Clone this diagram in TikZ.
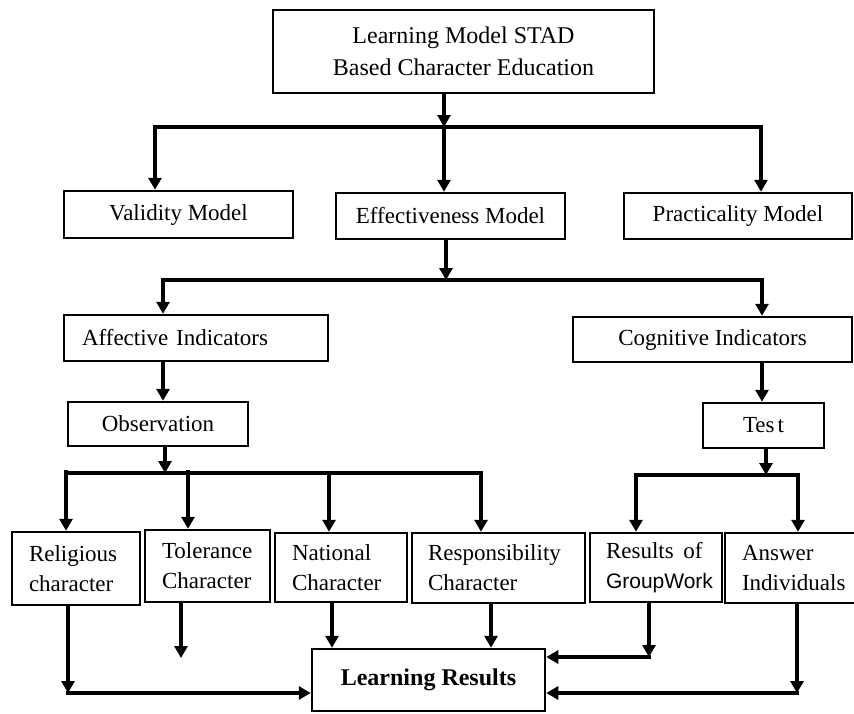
\documentclass[tikz,border=0pt]{standalone}
\usepackage{fontspec}
\setmainfont{Liberation Serif}
\setsansfont{Liberation Sans}
\usetikzlibrary{arrows.meta}
\begin{document}
\begin{tikzpicture}[x=1pt,y=-1pt,
  box/.style={draw, line width=2.5pt, inner sep=0pt, align=center, font=\fontsize{23}{30}\selectfont},
  lbox/.style={box, align=left},
  arr/.style={line width=4.5pt, -{Triangle[length=12pt,width=13pt]}},
  bar/.style={line width=3.5pt, line cap=rect},
]
\useasboundingbox (0,0) rectangle (854,713);

% nodes
\node[box, minimum width=381pt, minimum height=83pt, font=\fontsize{24}{32}\selectfont] (top) at (463.5,51.5) {Learning Model STAD\\Based Character Education};
\node[box, minimum width=229pt, minimum height=47pt] (valid) at (178.5,214.5) {Validity Model};
\node[box, minimum width=229pt, minimum height=46pt] (eff) at (450.5,216) {Effectiveness Model};
\node[box, minimum width=228pt, minimum height=46pt] (pract) at (738,216) {Practicality Model};
\node[lbox, text width=228pt, inner xsep=18pt, minimum height=46pt] (aff) at (196,338) {Affective Indicators};
\node[box, minimum width=279pt, minimum height=45pt] (cog) at (712.5,339.5) {Cognitive Indicators};
\node[box, minimum width=180pt, minimum height=44pt] (obs) at (158,424) {Observation};
\node[box, minimum width=121pt, minimum height=45pt] (test) at (763.5,425.5) {Tes\hspace{3pt}t};

\node[lbox, text width=94pt, inner xsep=17pt, minimum height=73pt] (rel) at (76,568.5) {Religious\\character};
\node[lbox, text width=91pt, inner xsep=17pt, minimum height=72pt] (tol) at (207.5,566) {Tolerance\\Character};
\node[lbox, text width=98pt, inner xsep=17pt, minimum height=69pt] (nat) at (341,567.5) {National\\Character};
\node[lbox, text width=141pt, inner xsep=16pt, minimum height=70pt] (resp) at (498.5,568) {Responsibility\\Character};
\node[lbox, text width=100pt, inner xsep=16pt, minimum height=69pt] (grp) at (656,567.5) {Results\hspace{2pt} of\\{\sffamily\fontsize{21}{30}\selectfont GroupWork}};
\node[lbox, text width=99pt, inner xsep=17pt, minimum height=70pt] (ans) at (791.5,568) {Answer\\Individuals};
\node[box, minimum width=233pt, minimum height=62pt, font=\fontsize{24}{30}\selectfont\bfseries] (lr) at (428.5,680) {Learning Results};

% level 1
\coordinate (j1) at (444,127);
\coordinate (j1L) at (155,127);
\coordinate (j1R) at (761,127);
\draw[arr] (top.south -| j1) -- (j1);
\draw[bar] (j1L) -- (j1R);
\draw[arr] ([yshift=1.75pt]j1L) -- (j1L |- valid.north);
\draw[arr] (j1) -- (j1 |- eff.north);
\draw[arr] ([yshift=1.75pt]j1R) -- (j1R |- pract.north);

% level 2
\coordinate (j2) at (446,280);
\coordinate (a2) at (163,280);
\coordinate (c2) at (762,280);
\draw[arr] (eff.south -| j2) -- (j2);
\draw[bar] (a2) -- (c2);
\draw[arr] ([yshift=1.75pt]a2) -- (a2 |- aff.north);
\draw[arr] ([yshift=1.75pt]c2) -- (c2 |- cog.north);
\draw[arr] (a2 |- aff.south) -- (a2 |- obs.north);
\draw[arr] (c2 |- cog.south) -- (c2 |- test.north);

% level 3 (affective)
\coordinate (j3) at (165,473);
\coordinate (crel) at (66,473);
\coordinate (ctol) at (188,473);
\coordinate (cnat) at (329,473);
\coordinate (cresp) at (481,473);
\draw[arr] (obs.south -| j3) -- (j3);
\draw[bar] (crel) -- (cresp);
\draw[arr] ([yshift=3pt]crel) -- (crel |- rel.north);
\draw[arr] ([yshift=3pt]ctol) -- (ctol |- tol.north);
\draw[arr] ([yshift=1.75pt]cnat) -- (cnat |- nat.north);
\draw[arr] ([yshift=1.75pt]cresp) -- (cresp |- resp.north);

% level 3 (cognitive)
\coordinate (j4) at (766,475);
\coordinate (cgrp) at (636,475);
\coordinate (cans) at (798,475);
\draw[arr] (test.south -| j4) -- (j4);
\draw[bar] (cgrp) -- (cans);
\draw[arr] ([yshift=1.75pt]cgrp) -- (cgrp |- grp.north);
\draw[arr] ([yshift=1.75pt]cans) -- (cans |- ans.north);

% to learning results
\coordinate (krel) at (68,693);
\coordinate (ktol) at (181,658);
\coordinate (knat) at (332,649);
\coordinate (kresp) at (491,649);
\coordinate (kgrp) at (649,657);
\coordinate (kans) at (797,693);
\draw[arr] (krel |- rel.south) -- (krel);
\draw[arr] ([xshift=-2.25pt]krel) -- (lr.west |- krel);
\draw[arr] (ktol |- tol.south) -- (ktol);
\draw[arr] (knat |- nat.south) -- (knat |- lr.north);
\draw[arr] (kresp |- resp.south) -- (kresp |- lr.north);
\draw[arr] (kgrp |- grp.south) -- (kgrp);
\draw[arr] ([xshift=2.25pt]kgrp) -- (lr.east |- kgrp);
\draw[arr] (kans |- ans.south) -- (kans);
\draw[arr] ([xshift=2.25pt]kans) -- (lr.east |- kans);
\end{tikzpicture}
\end{document}
